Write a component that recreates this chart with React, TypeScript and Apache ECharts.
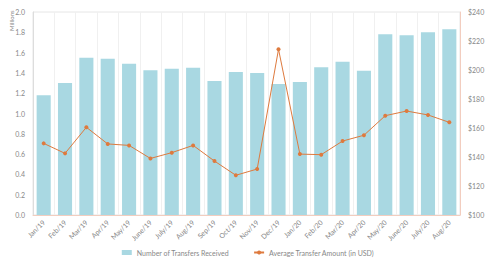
import React, { useEffect, useRef } from "react";
import * as echarts from "echarts";

const categories = [
  "Jan/19", "Feb/19", "Mar/19", "Apr/19", "May/19", "June/19", "July/19", "Aug/19", "Sep/19", "Oct/19",
  "Nov/19", "Dec/19", "Jan/20", "Feb/20", "Mar/20", "Apr/20", "May/20", "June/20", "July/20", "Aug/20",
];
const transfers = [
  1.18, 1.3, 1.55, 1.54, 1.49, 1.425, 1.44, 1.45, 1.32, 1.41,
  1.4, 1.29, 1.31, 1.455, 1.51, 1.42, 1.78, 1.77, 1.8, 1.83,
];
const avgAmount = [
  149.4, 142.5, 160.5, 149, 148, 139, 143, 148, 137.2, 127.4,
  131.7, 214.3, 142, 141.6, 151, 155, 168.5, 171.7, 169, 163.9,
];

const FONT = "Lato";

export default function App() {
  const ref = useRef<HTMLDivElement>(null);
  useEffect(() => {
    if (!ref.current) return;
    const chart = echarts.init(ref.current, undefined, { renderer: "svg" });
    chart.setOption({
      animation: false,
      textStyle: { fontFamily: FONT },
      grid: {
        left: 33, right: 36, top: 12, bottom: 46,
        show: true, borderColor: "#e6e6e6", borderWidth: 1,
      },
      legend: {
        top: 244,
        left: "center",
        itemGap: 24,
        textStyle: { fontSize: 7, color: "#888", fontFamily: FONT },
        data: [
          { name: "Number of Transfers Received", icon: "rect", itemStyle: { color: "#a9d8e2" } },
          { name: "Average Transfer Amount (in USD)" },
        ],
        itemWidth: 10,
        itemHeight: 5,
      },
      graphic: [
        {
          type: "text",
          x: 8,
          y: 31,
          rotation: Math.PI / 2,
          style: { text: "Millions", fontSize: 6, fill: "#888", fontFamily: FONT, align: "left", verticalAlign: "top" },
        },
      ],
      xAxis: {
        type: "category",
        data: categories,
        axisLine: { lineStyle: { color: "#f2cdbf" } },
        axisTick: { show: false },
        splitLine: { show: true, lineStyle: { color: "#f0f0f0" } },
        axisLabel: { rotate: 45, fontSize: 7, color: "#888", interval: 0, margin: 6 },
      },
      yAxis: [
        {
          type: "value",
          min: 0, max: 2, interval: 0.2,
          axisLine: { show: true, lineStyle: { color: "#dddddd" } },
          axisTick: { show: false },
          splitLine: { show: false },
          axisLabel: { fontSize: 7, color: "#888", formatter: (v: number) => v.toFixed(1), margin: 8 },
        },
        {
          type: "value",
          min: 100, max: 240, interval: 20,
          axisLine: { show: true, lineStyle: { color: "#f2cdbf" } },
          axisTick: { show: false },
          splitLine: { show: false },
          axisLabel: { fontSize: 7, color: "#888", formatter: (v: number) => "$" + v, margin: 8 },
        },
      ],
      series: [
        {
          name: "Number of Transfers Received",
          type: "bar",
          data: transfers,
          barWidth: "66%",
          itemStyle: { color: "#a9d8e2" },
        },
        {
          name: "Average Transfer Amount (in USD)",
          type: "line",
          yAxisIndex: 1,
          data: avgAmount,
          symbol: "circle",
          symbolSize: 4,
          lineStyle: { color: "#de7a3e", width: 1 },
          itemStyle: { color: "#de7a3e" },
        },
      ],
    });
    return () => chart.dispose();
  }, []);
  return <div ref={ref} style={{ position: "absolute", left: 0, top: 0, width: 496, height: 261 }} />;
}
